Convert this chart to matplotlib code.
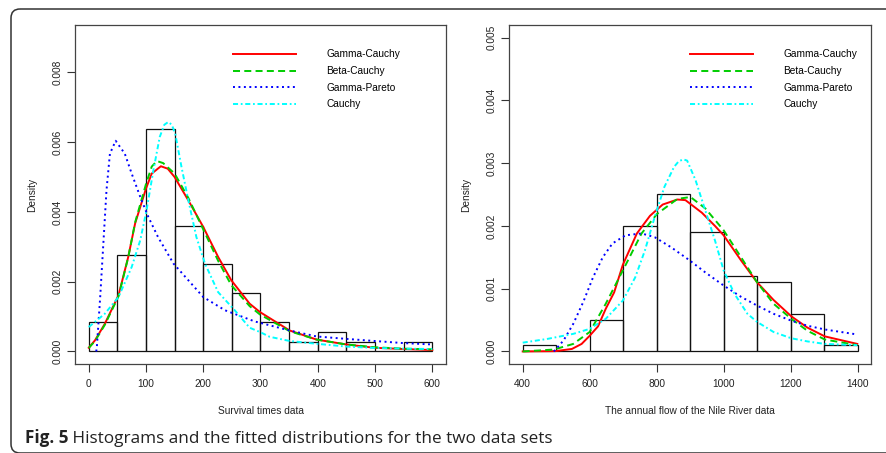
import numpy as np
import matplotlib
matplotlib.use('Agg')
import matplotlib.pyplot as plt
from matplotlib.patches import FancyBboxPatch

# histogram bins and densities
surv_edges = [0, 50, 100, 150, 200, 250, 300, 350, 400, 450, 500, 550, 600]
surv_density = [0.000833, 0.002778, 0.006389, 0.003611, 0.0025, 0.001667,
                0.000833, 0.000278, 0.000556, 0.000278, 0.0, 0.000278]

nile_edges = [400, 500, 600, 700, 800, 900, 1000, 1100, 1200, 1300, 1400]
nile_density = [0.0001, 0.0, 0.0005, 0.002, 0.0025, 0.0019, 0.0012, 0.0011, 0.0006, 0.0001]

# fitted curves, left panel (survival times)
surv_gc_x = [0, 11, 28, 52, 69, 81, 100, 110, 126, 138, 150, 174, 200, 226, 249, 281, 299, 351, 398, 450, 499, 549, 600]
surv_gc_y = [0.000105, 0.00032, 0.00079, 0.00161, 0.00271, 0.00367, 0.00467, 0.0051, 0.00531, 0.00524, 0.0050,
             0.00433, 0.00357, 0.00271, 0.00204, 0.00137, 0.00113, 0.0006, 0.00034, 0.0002, 0.000105, 0.00007, 0.00004]

surv_bc_x = [0, 11, 28, 52, 69, 81, 100, 110, 119, 130, 150, 174, 200, 226, 249, 281, 299, 351, 398, 450, 499, 549, 600]
surv_bc_y = [0.0001, 0.0003, 0.00076, 0.00158, 0.0027, 0.0037, 0.0048, 0.0053, 0.00546, 0.0054, 0.0051,
             0.0044, 0.0035, 0.0026, 0.0019, 0.0013, 0.00106, 0.00058, 0.00034, 0.0002, 0.00012, 0.00008, 0.00006]

surv_gp_x = [13, 14, 20, 25.5, 31, 37, 47, 63, 75, 90, 104, 121, 148, 174, 200, 238, 290, 351, 398, 450, 499, 549, 600]
surv_gp_y = [0.0, 0.00008, 0.00156, 0.00309, 0.00462, 0.00567, 0.00604, 0.00567, 0.0051, 0.00443, 0.00386,
             0.00328, 0.00252, 0.00204, 0.00156, 0.00118, 0.00086, 0.0006, 0.00043, 0.00036, 0.0003, 0.00024, 0.0002]

surv_c_x = [0, 28, 52, 75, 90, 101, 113, 124, 132, 139, 145, 151, 162, 174, 188, 203, 226, 255, 281, 300,
            316, 351, 398, 450, 499, 549, 600]
surv_c_y = [0.0007, 0.00108, 0.00156, 0.00242, 0.00319, 0.00405, 0.0052, 0.00615, 0.0065, 0.00658, 0.0065,
            0.00625, 0.00529, 0.00433, 0.00328, 0.00252, 0.0017, 0.00118, 0.00068, 0.00055, 0.00042, 0.0003,
            0.00022, 0.00014, 0.0001, 0.00008, 0.00007]

# fitted curves, right panel (Nile flow)
nile_gc_x = [400, 498, 547, 576, 600, 625, 648, 673, 699, 741, 780, 801, 818, 862, 886, 935, 974, 1000,
             1052, 1100, 1149, 1202, 1250, 1302, 1399]
nile_gc_y = [0.0, 0.000005, 0.00004, 0.00012, 0.00025, 0.0004, 0.00068, 0.00094, 0.00138, 0.00188, 0.00216,
             0.00226, 0.00234, 0.00242, 0.00241, 0.00221, 0.002, 0.00185, 0.00145, 0.0011, 0.00082, 0.00056,
             0.00038, 0.00024, 0.00012]

nile_bc_x = [400, 493, 551, 600, 648, 699, 755, 801, 862, 901, 945, 1000, 1052, 1100, 1149, 1202, 1250, 1302, 1399]
nile_bc_y = [0.0, 0.00003, 0.00012, 0.00031, 0.00076, 0.00129, 0.00188, 0.00219, 0.00243, 0.00246, 0.00228,
             0.00193, 0.0015, 0.0011, 0.00076, 0.00052, 0.00033, 0.00019, 0.0001]

nile_gp_x = [493, 522, 551, 581, 610, 639, 668, 707, 755, 794, 843, 896, 945, 1000, 1052, 1100, 1149, 1202,
             1250, 1302, 1399]
nile_gp_y = [0.0, 0.000175, 0.00044, 0.00079, 0.00118, 0.0015, 0.00172, 0.00185, 0.00188, 0.00182, 0.00166,
             0.00146, 0.00126, 0.00105, 0.00087, 0.00073, 0.0006, 0.00049, 0.00041, 0.00035, 0.00027]

nile_c_x = [400, 474, 551, 600, 648, 699, 736, 765, 794, 823, 852, 866, 880, 891, 916, 945, 974, 1000, 1032,
            1071, 1100, 1149, 1202, 1250, 1302, 1399]
nile_c_y = [0.00014, 0.0002, 0.00028, 0.00036, 0.00052, 0.00081, 0.00118, 0.00161, 0.00214, 0.00262, 0.00294,
            0.00303, 0.00306, 0.00304, 0.00273, 0.00225, 0.00177, 0.00129, 0.00092, 0.0006, 0.00047, 0.00031,
            0.00021, 0.00016, 0.00012, 0.0001]

labels = ['Gamma-Cauchy', 'Beta-Cauchy', 'Gamma-Pareto', 'Cauchy']

styles = [
    dict(color='#ff0000', ls='-'),
    dict(color='#00cd00', dashes=(3.6, 2.2)),
    dict(color='#0000ff', dashes=(1.0, 1.8)),
    dict(color='#00ffff', dashes=(2.6, 1.4, 0.9, 1.4)),
]

plt.rcParams['font.family'] = ['Liberation Sans', 'DejaVu Sans']
FS = 7.3

fig = plt.figure(figsize=(8.86, 4.53), dpi=100)

# frame and caption in pixel coordinates
bg = fig.add_axes([0, 0, 1, 1], zorder=-1)
bg.set_xlim(0, 886)
bg.set_ylim(453, 0)
bg.axis('off')
bg.add_patch(FancyBboxPatch((11, 9), 900, 444, boxstyle='round,pad=0,rounding_size=9',
                            fill=False, ec='#333333', lw=1.1))
t1 = bg.text(25, 443, 'Fig. 5', fontsize=12.3, fontweight='bold', family='Open Sans',
             color='#222222', va='baseline')
bg.annotate(' Histograms and the fitted distributions for the two data sets', xy=(1, 0),
            xycoords=t1, va='bottom', fontsize=12.3, family='Open Sans', color='#222222')


def panel(rect, edges, dens, curves, xlim, ylim, xticks, yticks, xlabel, leg_x):
    ax = fig.add_axes(rect)
    left = edges[:-1]
    widths = np.diff(edges)
    ax.bar(left, dens, width=widths, align='edge', fill=False, edgecolor='#111111', lw=0.9)
    handles = []
    for (cx, cy), st, lab in zip(curves, styles, labels):
        h, = ax.plot(cx, cy, lw=1.4, label=lab, **st)
        handles.append(h)
    ax.set_xlim(*xlim)
    ax.set_ylim(*ylim)
    ax.set_xticks(xticks)
    ax.set_yticks(yticks)
    ax.set_yticklabels(['%.3f' % v for v in yticks])
    ax.tick_params(direction='out', length=6, width=0.8, color='#333333', labelsize=FS,
                   labelcolor='#222222')
    ax.tick_params(axis='x', pad=5)
    ax.tick_params(axis='y', labelrotation=90, pad=3)
    for lab in ax.get_yticklabels():
        lab.set_va('center')
    for sp in ax.spines.values():
        sp.set_color('#444444')
        sp.set_linewidth(0.9)
    ax.set_xlabel(xlabel, fontsize=FS, color='#222222')
    ax.xaxis.set_label_coords(0.5, -0.123)
    ax.set_ylabel('Density', fontsize=FS, color='#222222')
    ax.yaxis.set_label_coords(leg_x[1], 0.5)
    ax.legend(handles=handles, loc='upper left', bbox_to_anchor=(leg_x[0], 0.928), frameon=False,
              fontsize=FS, handlelength=6.2, handletextpad=3.0, labelspacing=0.66,
              borderpad=0, borderaxespad=0)
    return ax


panel([75 / 886, 1 - 364 / 453, 371 / 886, 339 / 453], surv_edges, surv_density,
      [(surv_gc_x, surv_gc_y), (surv_bc_x, surv_bc_y), (surv_gp_x, surv_gp_y), (surv_c_x, surv_c_y)],
      (-24, 624), (-0.00036, 0.00936), [0, 100, 200, 300, 400, 500, 600],
      [0.0, 0.002, 0.004, 0.006, 0.008], 'Survival times data', (0.426, -0.103))

panel([509.3 / 886, 1 - 364 / 453, 361.7 / 886, 339 / 453], nile_edges, nile_density,
      [(nile_gc_x, nile_gc_y), (nile_bc_x, nile_bc_y), (nile_gp_x, nile_gp_y), (nile_c_x, nile_c_y)],
      (360, 1440), (-0.0002, 0.0052), [400, 600, 800, 1000, 1200, 1400],
      [0.0, 0.001, 0.002, 0.003, 0.004, 0.005], 'The annual flow of the Nile River data', (0.4996, -0.105))

fig.savefig('out.png', dpi=100)
